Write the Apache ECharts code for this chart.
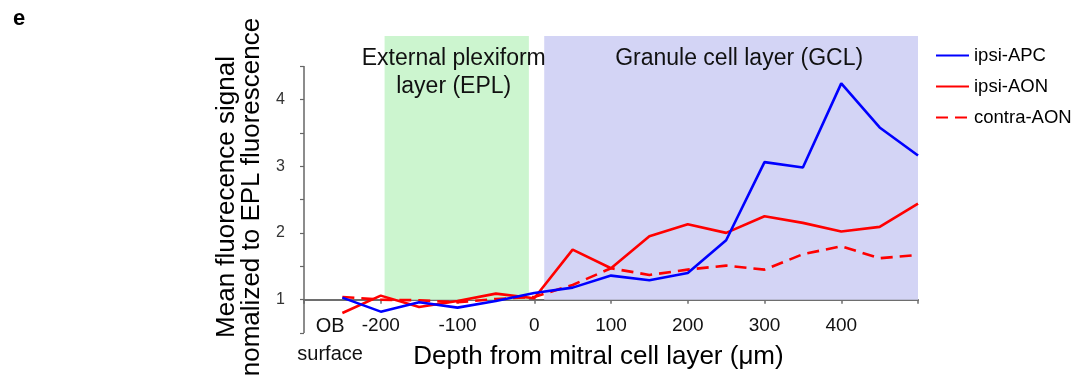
<!DOCTYPE html>
<html>
<head>
<meta charset="utf-8">
<script src="https://cdn.jsdelivr.net/npm/echarts@6/dist/echarts.min.js"></script>
<style>
  html, body { margin: 0; padding: 0; background: #fff; }
  #chart { width: 1075px; height: 378px; }
</style>
</head>
<body>
<div id="chart"></div>
<script>
// depth from mitral cell layer (um)
const depth = [-250, -200, -150, -100, -50, 0, 50, 100, 150, 200, 250, 300, 350, 400, 450, 500];
const ipsiAPC = [1.03, 0.82, 0.96, 0.88, 0.98, 1.10, 1.18, 1.36, 1.29, 1.40, 1.89, 3.06, 2.98, 4.24, 3.58, 3.16];
const ipsiAON = [0.80, 1.06, 0.89, 0.98, 1.09, 1.02, 1.75, 1.47, 1.95, 2.13, 2.00, 2.25, 2.15, 2.02, 2.09, 2.44];
const contraAON = [1.04, 1.00, 0.99, 0.96, 1.01, 1.04, 1.22, 1.47, 1.37, 1.45, 1.51, 1.45, 1.68, 1.80, 1.62, 1.67];

const xTickLabels = [-200, -100, 0, 100, 200, 300, 400];
const yTicks = [0.5, 1, 1.5, 2, 2.5, 3, 3.5, 4, 4.5];
const yTickLabels = [1, 2, 3, 4];

// layer bands: [name, from, to]
const layers = [
  ['External plexiform\nlayer (EPL)', -195, -7],
  ['Granule cell layer (GCL)', 13, 500]
];

const font = 'Liberation Sans, Arial, sans-serif';
const yMin = 0.5, yMax = 4.95, xMin = -300, xMax = 500;
const gridTop = 36, gridBottom = 45;
const gridH = 378 - gridTop - gridBottom;
// put the x axis line at y = 1
const xAxisOffset = -(1 - yMin) / (yMax - yMin) * gridH;

const chart = echarts.init(document.getElementById('chart'));

const pairs = (ys) => depth.map((d, i) => [d, ys[i]]);

const option = {
  animation: false,
  backgroundColor: '#fff',
  title: {
    text: 'e', left: 8, top: 3,
    textStyle: { fontFamily: font, fontSize: 22, fontWeight: 'bold', color: '#000' }
  },
  legend: {
    orient: 'vertical', left: 935, top: 46, padding: 0,
    itemWidth: 33, itemHeight: 12, itemGap: 12,
    itemStyle: { opacity: 0 },
    textStyle: { fontFamily: font, fontSize: 18.5, color: '#000' },
    data: ['ipsi-APC', 'ipsi-AON', 'contra-AON']
  },
  grid: { left: 304, right: 157, top: gridTop, bottom: gridBottom, outerBoundsMode: 'none' },
  xAxis: {
    type: 'value', min: xMin, max: xMax, interval: 100,
    offset: xAxisOffset,
    name: 'Depth from mitral cell layer (\u03bcm)',
    nameLocation: 'middle', nameGap: 44,
    nameTextStyle: { fontFamily: font, fontSize: 26, color: '#000', padding: [0, 25, 0, 0] },
    axisLine: { show: true, onZero: false, lineStyle: { color: '#6e6e6e', width: 2 } },
    axisTick: { show: true, length: 4, lineStyle: { color: '#6e6e6e', width: 1.5 } },
    axisLabel: {
      customValues: xTickLabels, margin: 17,
      fontFamily: font, fontSize: 19, color: '#111'
    },
    splitLine: { show: false }
  },
  yAxis: {
    type: 'value', min: yMin, max: yMax,
    name: 'Mean fluorecence signal\nnomalized to EPL fluorescence',
    nameLocation: 'middle', nameGap: 36,
    nameTextStyle: { fontFamily: font, fontSize: 26, lineHeight: 25, color: '#000', padding: [0, 25, 0, 0] },
    axisLine: { show: false, onZero: false },
    axisTick: { show: true, customValues: yTicks, length: 4, lineStyle: { color: '#666', width: 1.2 } },
    axisLabel: {
      customValues: yTickLabels, margin: 19,
      fontFamily: font, fontSize: 16, color: '#333'
    },
    splitLine: { show: false }
  },
  series: [
    {
      name: 'ipsi-APC', type: 'line', symbol: 'none', clip: false, z: 4,
      data: pairs(ipsiAPC),
      lineStyle: { color: '#0000ff', width: 2.6 },
      itemStyle: { color: '#0000ff' },
      markArea: {
        silent: true,
        data: layers.map((l, i) => [
          {
            name: l[0], xAxis: l[1], yAxis: 1,
            itemStyle: { color: i === 0 ? '#ccf5cf' : '#d3d4f5' },
            label: { offset: [i === 0 ? -3 : 8, 0] }
          },
          { xAxis: l[2], yAxis: yMax }
        ]),
        label: {
          show: true, position: 'insideTop', distance: 9,
          fontFamily: font, fontSize: 23, lineHeight: 28, color: '#111'
        }
      },
      markLine: {
        silent: true, symbol: 'none',
        label: { show: false },
        lineStyle: { color: '#666', width: 1.5, type: 'solid' },
        data: [[{ coord: [xMin, 0.5] }, { coord: [xMin, 4.5] }]]
      }
    },
    {
      name: 'ipsi-AON', type: 'line', symbol: 'none', z: 3,
      data: pairs(ipsiAON),
      lineStyle: { color: '#ff0000', width: 2.6 },
      itemStyle: { color: '#ff0000' }
    },
    {
      name: 'contra-AON', type: 'line', symbol: 'none', z: 3,
      data: pairs(contraAON),
      lineStyle: { color: '#ff0000', width: 2.6, type: [12, 7] },
      itemStyle: { color: '#ff0000' }
    }
  ]
};

chart.setOption(option);

// "OB surface" label under the left end of the x axis
const p = chart.convertToPixel({ gridIndex: 0 }, [-266, 1]);
chart.setOption({
  graphic: [{
    type: 'text', x: p[0], y: p[1] + 13,
    style: {
      text: 'OB\nsurface', align: 'center', verticalAlign: 'top',
      font: '20px ' + font, lineHeight: 28, fill: '#111'
    }
  }]
});
</script>
</body>
</html>
